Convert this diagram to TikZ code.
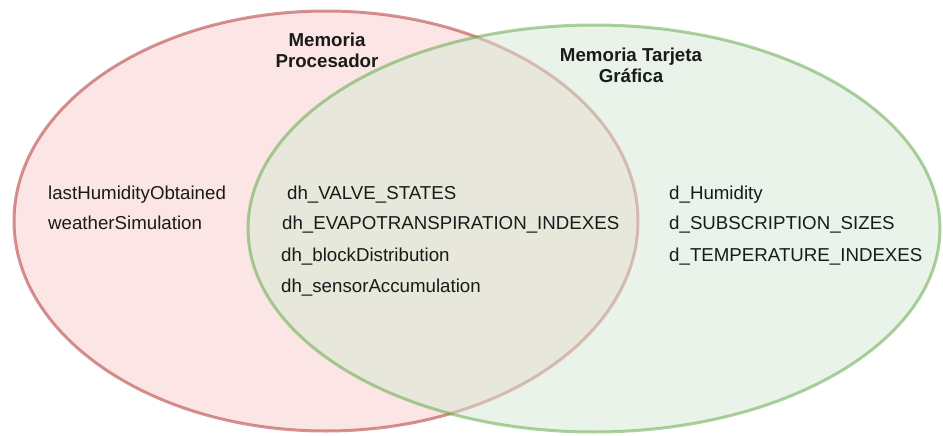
\documentclass[tikz,border=0pt]{standalone}
\usepackage{fontspec}
\setmainfont{Liberation Sans}
\definecolor{cpuFill}{HTML}{F8CECC}
\definecolor{cpuLine}{RGB}{175,40,40}
\definecolor{gpuFill}{HTML}{D5E8D4}
\definecolor{gpuLine}{RGB}{90,165,60}
\definecolor{ink}{HTML}{1A1A1A}
\tikzset{
  memset/.style={line width=3pt, opacity=0.5},
  item/.style={anchor=base west, inner sep=0pt, text=ink,
    font=\fontsize{18.7}{22}\selectfont},
  title/.style={anchor=base, inner sep=0pt, text=ink,
    font=\fontsize{18.7}{22}\selectfont\bfseries},
}
\begin{document}
\begin{tikzpicture}[x=1pt, y=-1pt]
  \useasboundingbox (0,0) rectangle (943,436);
  \fill[white] (0,0) rectangle (943,436);

  % the two memory sets
  \draw[memset, draw=cpuLine, fill=cpuFill] (326,221) ellipse [x radius=312, y radius=210];
  \draw[memset, draw=gpuLine, fill=gpuFill] (594,228.5) ellipse [x radius=346, y radius=203.5];

  % set titles
  \node[title] (cpuA) at (327,47) {Memoria};
  \node[title] (cpuB) at (327,68) {Procesador};
  \node[title] (gpuA) at (631,62) {Memoria Tarjeta};
  \node[title] (gpuB) at (631,83) {Gráfica};

  % host only
  \node[item] (h1) at (48,199.5) {lastHumidityObtained};
  \node[item] (h2) at (48,229.5) {weatherSimulation};

  % shared host/device
  \node[item] (s1) at (287,199.5) {dh\_VALVE\_STATES};
  \node[item] (s2) at (282,229.5) {dh\_EVAPOTRANSPIRATION\_INDEXES};
  \node[item] (s3) at (281,261.5) {dh\_blockDistribution};
  \node[item] (s4) at (281,292.5) {dh\_sensorAccumulation};

  % device only
  \node[item] (d1) at (669,199.5) {d\_Humidity};
  \node[item] (d2) at (669,229.5) {d\_SUBSCRIPTION\_SIZES};
  \node[item] (d3) at (669,261.5) {d\_TEMPERATURE\_INDEXES};
\end{tikzpicture}
\end{document}
